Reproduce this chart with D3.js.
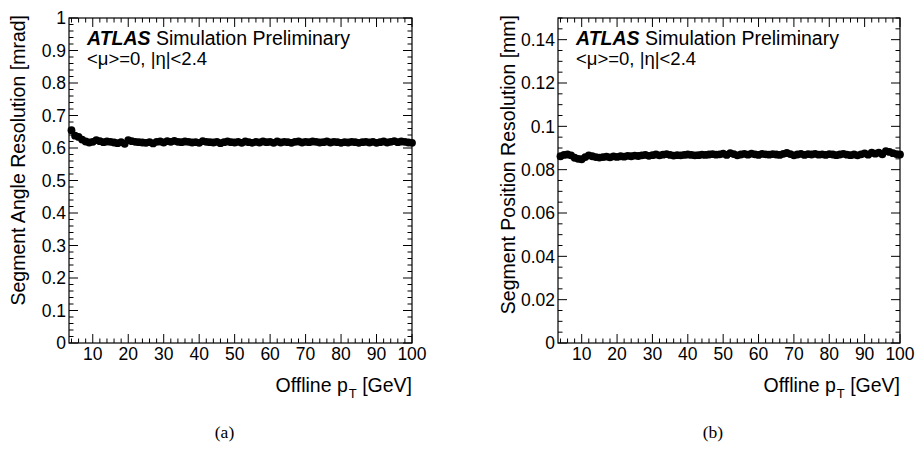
<!DOCTYPE html>
<html>
<head>
<meta charset="utf-8">
<script src="https://cdn.jsdelivr.net/npm/d3@7"></script>
<style>
  body { margin: 0; background: #fff; }
  text { font-family: "Liberation Sans", Arial, Helvetica, sans-serif; fill: #000; }
</style>
</head>
<body>
<svg width="919" height="449"></svg>
<script>
var svg = d3.select('svg');

// offline pT bins [GeV]
var ptBins = [4, 5, 6, 7, 8, 9, 10, 11, 12, 13, 14, 15, 16, 17, 18, 19, 20, 21, 22, 23,
  24, 25, 26, 27, 28, 29, 30, 31, 32, 33, 34, 35, 36, 37, 38, 39, 40, 41, 42, 43,
  44, 45, 46, 47, 48, 49, 50, 51, 52, 53, 54, 55, 56, 57, 58, 59, 60, 61, 62, 63,
  64, 65, 66, 67, 68, 69, 70, 71, 72, 73, 74, 75, 76, 77, 78, 79, 80, 81, 82, 83,
  84, 85, 86, 87, 88, 89, 90, 91, 92, 93, 94, 95, 96, 97, 98, 99, 100];

// segment angle resolution [mrad]
var angleRes = [0.655, 0.638, 0.634, 0.626, 0.620, 0.617, 0.619, 0.624, 0.621, 0.618,
  0.620, 0.619, 0.617, 0.615, 0.618, 0.613, 0.624, 0.621, 0.619, 0.618,
  0.617, 0.616, 0.618, 0.614, 0.619, 0.620, 0.617, 0.621, 0.619, 0.622,
  0.619, 0.618, 0.620, 0.619, 0.617, 0.618, 0.616, 0.621, 0.619, 0.618,
  0.617, 0.619, 0.615, 0.618, 0.620, 0.618, 0.617, 0.619, 0.616, 0.620,
  0.618, 0.616, 0.619, 0.617, 0.620, 0.618, 0.619, 0.616, 0.620, 0.617,
  0.619, 0.618, 0.616, 0.619, 0.620, 0.617, 0.619, 0.618, 0.620, 0.619,
  0.617, 0.618, 0.620, 0.617, 0.619, 0.618, 0.616, 0.618, 0.617, 0.619,
  0.618, 0.616, 0.618, 0.619, 0.617, 0.619, 0.616, 0.618, 0.620, 0.617,
  0.619, 0.621, 0.618, 0.620, 0.619, 0.617, 0.616];

// segment position resolution [mm]
var posRes = [0.0862, 0.0868, 0.0870, 0.0866, 0.0855, 0.0850, 0.0848, 0.0858, 0.0866, 0.0862,
  0.0858, 0.0856, 0.0858, 0.0860, 0.0857, 0.0861, 0.0859, 0.0862, 0.0860, 0.0864,
  0.0862, 0.0865, 0.0863, 0.0866, 0.0868, 0.0864, 0.0867, 0.0870, 0.0866, 0.0869,
  0.0872, 0.0868, 0.0865, 0.0867, 0.0866, 0.0868, 0.0870, 0.0868, 0.0866, 0.0867,
  0.0869, 0.0868, 0.0870, 0.0872, 0.0869, 0.0871, 0.0874, 0.0868, 0.0876, 0.0872,
  0.0866, 0.0870, 0.0873, 0.0869, 0.0874, 0.0871, 0.0868, 0.0873, 0.0871, 0.0869,
  0.0872, 0.0870, 0.0868, 0.0873, 0.0877, 0.0872, 0.0866, 0.0870, 0.0873, 0.0868,
  0.0872, 0.0870, 0.0873, 0.0869, 0.0871, 0.0868, 0.0872, 0.0870, 0.0867, 0.0870,
  0.0873, 0.0869, 0.0867, 0.0870, 0.0866, 0.0871, 0.0875, 0.0869, 0.0878, 0.0874,
  0.0879, 0.0871, 0.0886, 0.0882, 0.0876, 0.0872, 0.0870];

var xTicks = [10, 20, 30, 40, 50, 60, 70, 80, 90, 100];
var angleTicks = [0, 0.1, 0.2, 0.3, 0.4, 0.5, 0.6, 0.7, 0.8, 0.9, 1];
var angleTickLabels = ['0', '0.1', '0.2', '0.3', '0.4', '0.5', '0.6', '0.7', '0.8', '0.9', '1'];
var posTicks = [0, 0.02, 0.04, 0.06, 0.08, 0.1, 0.12, 0.14];
var posTickLabels = ['0', '0.02', '0.04', '0.06', '0.08', '0.1', '0.12', '0.14'];

function drawPanel(opt) {
  var g = svg.append('g');
  var x = d3.scaleLinear().domain([3.3, 100]).range([opt.left, opt.right]);
  var y = d3.scaleLinear().domain(opt.yDomain).range([opt.bottom, opt.top]);

  // frame
  g.append('rect')
    .attr('x', opt.left).attr('y', opt.top)
    .attr('width', opt.right - opt.left).attr('height', opt.bottom - opt.top)
    .attr('fill', 'none').attr('stroke', '#000').attr('stroke-width', 1.2);

  // x ticks, bottom and top
  var xMinor = d3.range(4, 101, 2);
  xMinor.forEach(function (v) {
    var major = v % 10 === 0;
    var len = major ? 9 : 4.5;
    g.append('line').attr('x1', x(v)).attr('x2', x(v))
      .attr('y1', opt.bottom).attr('y2', opt.bottom - len)
      .attr('stroke', '#000').attr('stroke-width', 1);
    g.append('line').attr('x1', x(v)).attr('x2', x(v))
      .attr('y1', opt.top).attr('y2', opt.top + len)
      .attr('stroke', '#000').attr('stroke-width', 1);
  });
  g.selectAll('.xl').data(xTicks).enter().append('text')
    .attr('x', function (d) { return x(d); })
    .attr('y', opt.bottom + 17)
    .attr('text-anchor', 'middle')
    .attr('font-size', 17.5)
    .text(function (d) { return d; });

  // y ticks, left and right
  var yMinor = d3.range(opt.yDomain[0], opt.yDomain[1] + 1e-9, opt.yMinor);
  yMinor.forEach(function (v, i) {
    var major = i % opt.yDiv === 0;
    var len = major ? 9 : 4.5;
    g.append('line').attr('y1', y(v)).attr('y2', y(v))
      .attr('x1', opt.left).attr('x2', opt.left + len)
      .attr('stroke', '#000').attr('stroke-width', 1);
    g.append('line').attr('y1', y(v)).attr('y2', y(v))
      .attr('x1', opt.right).attr('x2', opt.right - len)
      .attr('stroke', '#000').attr('stroke-width', 1);
  });
  g.selectAll('.yl').data(opt.yTicks).enter().append('text')
    .attr('x', opt.left - 3)
    .attr('y', function (d) { return y(d); })
    .attr('dy', '0.36em')
    .attr('text-anchor', 'end')
    .attr('font-size', 17.5)
    .text(function (d, i) { return opt.yTickLabels[i]; });

  // axis titles
  g.append('text')
    .attr('transform', 'translate(' + opt.yTitleX + ',' + (opt.top - 3) + ') rotate(-90)')
    .attr('text-anchor', 'end')
    .attr('font-size', 19.5)
    .text(opt.yTitle);

  var xt = g.append('text')
    .attr('x', opt.right).attr('y', opt.bottom + 49)
    .attr('text-anchor', 'end')
    .attr('font-size', 19.5);
  xt.append('tspan').text('Offline p');
  xt.append('tspan').attr('font-size', 13).attr('dy', 6).attr('dx', 1).text('T');
  xt.append('tspan').attr('dy', -6).text(' [GeV]');

  // ATLAS label
  var lab = g.append('text')
    .attr('x', opt.left + 18).attr('y', opt.top + 27)
    .attr('font-size', 19.5);
  lab.append('tspan').attr('font-weight', 'bold').attr('font-style', 'italic').text('ATLAS');
  lab.append('tspan').text(' Simulation Preliminary');
  g.append('text')
    .attr('x', opt.left + 18).attr('y', opt.top + 47)
    .attr('font-size', 18.5)
    .text('<\u03bc>=0, |\u03b7|<2.4');

  // markers
  g.selectAll('circle').data(opt.values).enter().append('circle')
    .attr('cx', function (d, i) { return x(ptBins[i]); })
    .attr('cy', function (d) { return y(d); })
    .attr('r', 3.9)
    .attr('fill', '#000');

  svg.append('text')
    .attr('x', (opt.left + opt.right) / 2 - 16)
    .attr('y', 438)
    .attr('text-anchor', 'middle')
    .style('font-family', '"Liberation Serif", "Times New Roman", serif')
    .attr('font-size', 17.5)
    .text(opt.caption);
}

drawPanel({
  left: 69, right: 412, top: 18, bottom: 343,
  yDomain: [0, 1], yMinor: 0.02, yDiv: 5,
  yTicks: angleTicks, yTickLabels: angleTickLabels,
  yTitle: 'Segment Angle Resolution [mrad]', yTitleX: 25,
  values: angleRes, caption: '(a)'
});

drawPanel({
  left: 558, right: 900, top: 18, bottom: 343,
  yDomain: [0, 0.15], yMinor: 0.005, yDiv: 4,
  yTicks: posTicks, yTickLabels: posTickLabels,
  yTitle: 'Segment Position Resolution [mm]', yTitleX: 515,
  values: posRes, caption: '(b)'
});
</script>
</body>
</html>
